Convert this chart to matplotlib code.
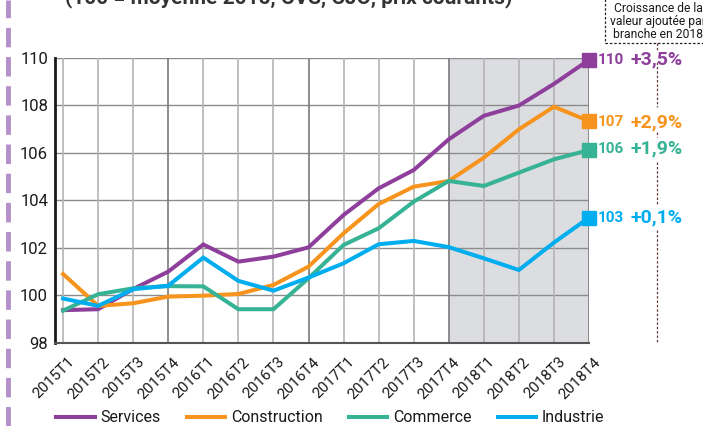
import matplotlib.pyplot as plt

quarters = ["2015T1", "2015T2", "2015T3", "2015T4",
            "2016T1", "2016T2", "2016T3", "2016T4",
            "2017T1", "2017T2", "2017T3", "2017T4",
            "2018T1", "2018T2", "2018T3", "2018T4"]

services = [99.38, 99.42, 100.27, 101.0, 102.14, 101.42, 101.63, 102.02,
            103.38, 104.5, 105.27, 106.56, 107.55, 107.98, 108.89, 109.9]
construction = [100.9, 99.56, 99.67, 99.95, 99.99, 100.06, 100.44, 101.21,
                102.61, 103.84, 104.57, 104.81, 105.79, 106.98, 107.93, 107.33]
commerce = [99.36, 100.05, 100.3, 100.39, 100.38, 99.42, 99.42, 100.72,
            102.12, 102.82, 103.94, 104.81, 104.6, 105.16, 105.72, 106.11]
industrie = [99.87, 99.56, 100.26, 100.41, 101.59, 100.61, 100.2, 100.75,
             101.35, 102.15, 102.29, 102.03, 101.56, 101.07, 102.22, 103.27]

names = ["Services", "Construction", "Commerce", "Industrie"]
end_labels = ["110", "107", "106", "103"]
growth = ["+3,5%", "+2,9%", "+1,9%", "+0,1%"]
colors = ["#8e3f9c", "#f7941d", "#36b294", "#00adef"]

plt.rcParams['font.family'] = ['Roboto', 'DejaVu Sans']

fig = plt.figure(figsize=(7.03, 4.26), dpi=100)
ax = fig.add_axes([55 / 703, 1 - 343 / 426, 534 / 703, 285.5 / 426])

x = list(range(len(quarters)))
ax.axvspan(11, 15, color="#dcdde0", zorder=0)

# grid
for v in range(98, 111, 2):
    ax.axhline(v, color="#8c8c8c", lw=1.0, zorder=1)
for i in x:
    if i % 4 == 3:
        ax.axvline(i, color="#7a7a7a", lw=1.2, zorder=1)
    else:
        ax.axvline(i, color="#b4b4b4", lw=1.2, zorder=1)

series = [services, construction, commerce, industrie]
for vals, name, c in zip(series, names, colors):
    ax.plot(x, vals, color=c, lw=2.9, label=name, zorder=3, solid_joinstyle="miter")
    ax.plot(x[-1], vals[-1], marker="s", ms=10, color=c, zorder=4, clip_on=False)

ax.set_xlim(-0.23, 15)
ax.set_ylim(98, 110)
ax.set_yticks(range(98, 111, 2))
ax.set_xticks(x)
ax.set_xticklabels([])
# rotated quarter labels, shifted a bit to the right like the original
for i, q in zip(x, quarters):
    ax.annotate(q, (i, 0), xycoords=("data", "axes fraction"), xytext=(10, -8.5),
                textcoords="offset points", rotation=45, ha="right", va="top",
                fontsize=11, color="#1a1a1a", annotation_clip=False)
ax.tick_params(axis="y", length=0, labelsize=12, pad=5, colors="#1a1a1a")
ax.tick_params(axis="x", length=0)
for s in ["top", "right"]:
    ax.spines[s].set_visible(False)
ax.spines["left"].set_color("#1a1a1a")
ax.spines["left"].set_linewidth(2)
ax.spines["bottom"].set_color("#555555")
ax.spines["bottom"].set_linewidth(1.5)

# end labels
label_y = [services[-1], construction[-1] - 0.05, commerce[-1] + 0.05, industrie[-1]]
for ly, lab, g, c in zip(label_y, end_labels, growth, colors):
    ax.annotate(lab, (15, ly), xytext=(6.5, 0), textcoords="offset points",
                ha="left", va="center", fontsize=11, fontweight="bold", color=c,
                annotation_clip=False)
    ax.annotate(g, (15, ly), xytext=(30, 0), textcoords="offset points",
                ha="left", va="center", fontsize=14, fontweight="bold", color=c,
                annotation_clip=False)

# dotted vertical separator
for y0, y1 in [(43, 50), (62, 107), (132, 137), (162, 205), (230, 343)]:
    fig.add_artist(plt.Line2D([657 / 703, 657 / 703], [1 - y0 / 426, 1 - y1 / 426],
                              color="#6b3a3a", lw=0.9, ls=(0, (2, 1.5))))

# box top right
fig.add_artist(plt.Rectangle((605 / 703, 1 - 43 / 426), 0.2, 0.2, fill=False,
                             ec="#222222", lw=0.9, ls=(0, (2, 1.5))))
fig.text(658 / 703, 1 - 21 / 426, "Croissance de la\nvaleur ajoutée par\nbranche en 2018",
         ha="center", va="center", fontsize=8.7, color="#1a1a1a", linespacing=1.0)

# title (cut at top)
fig.text(65 / 703, 1 - 3 / 426, "(100 = moyenne 2015, CVS, CJO, prix courants)",
         ha="left", va="baseline", fontsize=15, fontweight="bold", color="#333333")

# left purple dashed bar
fig.add_artist(plt.Line2D([8 / 703, 8 / 703], [0, 1], color="#b48fc9", lw=3.5,
                          ls=(0, (4, 2))))

leg = fig.legend(loc="center left", bbox_to_anchor=(42 / 703, 1 - 418 / 426), ncol=4,
                 frameon=False, fontsize=11.5, handlelength=2.4, columnspacing=1.65,
                 handletextpad=0.35)
for t in leg.get_texts():
    t.set_color("#1a1a1a")

fig.savefig("out.png", dpi=100)
